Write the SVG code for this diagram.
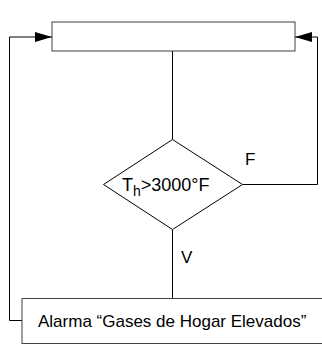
<svg xmlns="http://www.w3.org/2000/svg" width="322" height="345" viewBox="0 0 322 345">
<style>
.box{fill:#fff;stroke:#404040;stroke-width:1}
.ln{fill:none;stroke:#000;stroke-width:1}
text{font-family:"Liberation Sans",Arial,sans-serif;font-size:17px;fill:#000}
.sub{font-size:14px}
</style>
<defs>
<marker id="ah" markerWidth="17" markerHeight="10" refX="17" refY="5" orient="auto" markerUnits="userSpaceOnUse">
<path d="M0,0 L17,5 L0,10 Z" fill="#000"/>
</marker>
</defs>
<rect width="322" height="345" fill="#fff"/>
<g id="connectors">
<path class="ln" d="M172.5,51 V139.5"/>
<path class="ln" d="M172.5,229.5 V298.5"/>
<path class="ln" d="M243,184.5 H317.5 V37 H295" marker-end="url(#ah)"/>
<path class="ln" d="M22,320.5 H9.5 V37 H52" marker-end="url(#ah)"/>
<text x="245" y="165">F</text>
<text x="181" y="263">V</text>
</g>
<g id="top">
<rect class="box" x="52" y="22" width="243" height="29"/>
</g>
<g id="decision">
<path class="box" d="M172.5,139.5 L242.5,184.5 L172.5,229.5 L103.5,184.5 Z" style="stroke:#000"/>
<text x="122" y="191" style="font-size:18px">T<tspan class="sub" dy="5">h</tspan><tspan dy="-5">&gt;3000°F</tspan></text>
</g>
<g id="alarm">
<rect class="box" x="22" y="298.5" width="310" height="45"/>
<text x="38" y="327">Alarma “Gases de Hogar Elevados”</text>
</g>
</svg>
